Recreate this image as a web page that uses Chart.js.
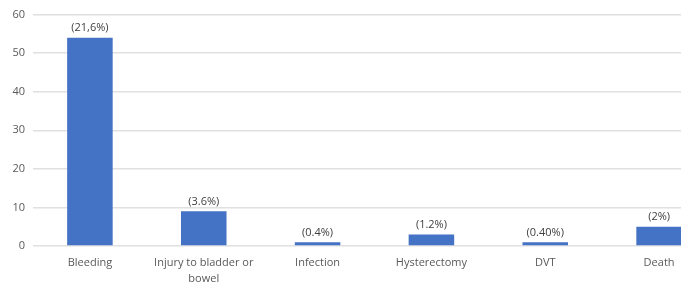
<!DOCTYPE html>
<html>
<head>
<meta charset="utf-8">
<script src="https://cdn.jsdelivr.net/npm/chart.js@4"></script>
<style>
  html, body { margin: 0; padding: 0; background: #fff; overflow: hidden; }
  #wrap { width: 681px; height: 286px; overflow: hidden; }
</style>
</head>
<body>
<div id="wrap"><canvas id="myChart" width="716" height="286"></canvas></div>
<script>
// datos del grafico
const categorias = ["Bleeding", ["Injury to bladder or", "bowel"], "Infection", "Hysterectomy", "DVT", "Death"];
const valores = [54, 9, 1, 3, 1, 5];
const etiquetas = ["(21,6%)", "(3.6%)", "(0.4%)", "(1.2%)", "(0.40%)", "(2%)"];
const ticksY = [0, 10, 20, 30, 40, 50, 60];

const fuente = "'Open Sans', 'Noto Sans', sans-serif";
const colorTexto = "#595959";

// etiquetas encima de cada barra
const etiquetasPlugin = {
    id: "etiquetas",
    afterDatasetsDraw(chart) {
        const ctx = chart.ctx;
        const meta = chart.getDatasetMeta(0);
        ctx.save();
        ctx.font = "11px " + fuente;
        ctx.fillStyle = "#404040";
        ctx.textAlign = "center";
        ctx.textBaseline = "bottom";
        meta.data.forEach((barra, i) => {
            ctx.fillText(etiquetas[i], barra.x, barra.y - 4);
        });
        ctx.restore();
    }
};

const config = {
    type: "bar",
    data: {
        labels: categorias,
        datasets: [{
            data: valores,
            backgroundColor: "#4472C4",
            categoryPercentage: 1,
            barPercentage: 0.4
        }]
    },
    options: {
        responsive: false,
        animation: false,
        layout: { padding: { top: 13, left: 0, right: 0, bottom: 0 } },
        plugins: { legend: { display: false }, tooltip: { enabled: false } },
        scales: {
            x: {
                grid: { display: false, drawTicks: false },
                border: { display: false },
                ticks: { color: colorTexto, font: { family: fuente, size: 11, lineHeight: 1.45 }, padding: 9, maxRotation: 0, autoSkip: false },
                afterFit(scale) { scale.height = 40; }
            },
            y: {
                min: 0,
                max: 60,
                afterBuildTicks(scale) { scale.ticks = ticksY.map(v => ({ value: v })); },
                grid: { color: "#e0e0e0", lineWidth: 1.5, drawTicks: false },
                border: { display: false },
                ticks: { color: colorTexto, font: { family: fuente, size: 11 }, padding: 8 },
                afterFit(scale) { scale.width = 33; }
            }
        }
    },
    plugins: [etiquetasPlugin]
};

new Chart(document.getElementById("myChart"), config);
</script>
</body>
</html>
